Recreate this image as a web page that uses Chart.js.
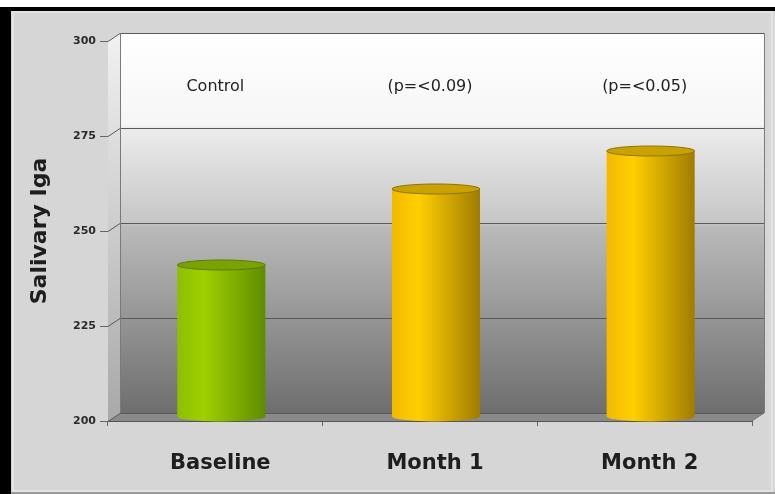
<!DOCTYPE html>
<html>
<head>
<meta charset="utf-8">
<script src="https://cdn.jsdelivr.net/npm/chart.js@4"></script>
<style>
  html, body { margin: 0; padding: 0; background: #d6d6d6; }
  #wrap { width: 775px; height: 494px; }
</style>
</head>
<body>
<div id="wrap"><canvas id="chart" width="775" height="494"></canvas></div>
<script>
const categories = ['Baseline', 'Month 1', 'Month 2'];
const igaValues = [240, 260, 270];
const pLabels = ['Control', '(p=<0.09)', '(p=<0.05)'];
const yTicks = [200, 225, 250, 275, 300];
const pLabelLevel = 288;   // value where the p-labels sit

const DX = 12, DY = -8;    // depth of the 3D box
const barColors = [
  { dark: '#5f8c00', mid: '#9fd000', light: '#8cc000', cap: '#7aa300', rim: '#5a7d00' },
  { dark: '#a07c00', mid: '#ffcf00', light: '#f2b900', cap: '#c9a200', rim: '#8f7000' },
  { dark: '#a07c00', mid: '#ffcf00', light: '#f2b900', cap: '#c9a200', rim: '#8f7000' }
];

const box3d = {
  id: 'box3d',
  beforeDraw(chart) {
    const ctx = chart.ctx;
    ctx.save();
    ctx.fillStyle = '#d6d6d6';
    ctx.fillRect(0, 0, chart.width, chart.height);
    ctx.strokeStyle = '#e4e4e4';
    ctx.lineWidth = 2;
    ctx.strokeRect(13, 12, chart.width - 16, chart.height - 15);
    ctx.fillStyle = '#ffffff';
    ctx.fillRect(0, 0, chart.width, 7);
    ctx.fillStyle = '#000000';
    ctx.fillRect(0, 7, chart.width, 4);
    ctx.fillRect(0, 7, 11, chart.height - 7);
    ctx.fillStyle = '#9a9a9a';
    ctx.fillRect(11, chart.height - 2, chart.width, 2);
    ctx.restore();
  },
  beforeDatasetsDraw(chart) {
    const { ctx, chartArea: a } = chart;
    const ys = chart.scales.y;
    ctx.save();
    // back wall
    const g = ctx.createLinearGradient(0, a.top + DY, 0, a.bottom + DY);
    g.addColorStop(0, '#ffffff');
    g.addColorStop(0.24, '#f6f6f6');
    g.addColorStop(0.25, '#ececec');
    g.addColorStop(0.5, '#c6c6c6');
    g.addColorStop(0.51, '#bababa');
    g.addColorStop(0.75, '#959595');
    g.addColorStop(1, '#6e6e6e');
    ctx.fillStyle = g;
    ctx.fillRect(a.left + DX, a.top + DY, a.right - a.left, a.bottom - a.top);
    // left wall
    const gl = ctx.createLinearGradient(0, a.top, 0, a.bottom);
    gl.addColorStop(0, '#f0f0f0');
    gl.addColorStop(1, '#a8a8a8');
    ctx.fillStyle = gl;
    ctx.beginPath();
    ctx.moveTo(a.left, a.top);
    ctx.lineTo(a.left + DX, a.top + DY);
    ctx.lineTo(a.left + DX, a.bottom + DY);
    ctx.lineTo(a.left, a.bottom);
    ctx.closePath();
    ctx.fill();
    // floor
    ctx.fillStyle = '#8a8a8a';
    ctx.beginPath();
    ctx.moveTo(a.left, a.bottom);
    ctx.lineTo(a.right, a.bottom);
    ctx.lineTo(a.right + DX, a.bottom + DY);
    ctx.lineTo(a.left + DX, a.bottom + DY);
    ctx.closePath();
    ctx.fill();
    // grid lines
    ctx.strokeStyle = '#5a5a5a';
    ctx.lineWidth = 1;
    ys.ticks.forEach(t => {
      const y = Math.round(ys.getPixelForValue(t.value)) + 0.5;
      ctx.beginPath();
      ctx.moveTo(a.left, y);
      ctx.lineTo(a.left + DX, y + DY);
      ctx.lineTo(a.right + DX, y + DY);
      ctx.stroke();
    });
    ctx.strokeStyle = '#7a7a7a';
    ctx.beginPath();
    ctx.moveTo(a.left + DX + 0.5, a.top + DY);
    ctx.lineTo(a.left + DX + 0.5, a.bottom + DY);
    ctx.moveTo(a.right + DX + 0.5, a.top + DY);
    ctx.lineTo(a.right + DX + 0.5, a.bottom + DY);
    ctx.moveTo(a.right, a.bottom);
    ctx.lineTo(a.right + DX, a.bottom + DY);
    ctx.stroke();
    // p-value labels
    ctx.fillStyle = '#222222';
    ctx.font = '16px "DejaVu Sans"';
    ctx.textAlign = 'center';
    ctx.textBaseline = 'middle';
    const xs = chart.scales.x;
    pLabels.forEach((txt, i) => {
      ctx.fillText(txt, xs.getPixelForValue(i), ys.getPixelForValue(pLabelLevel));
    });
    ctx.restore();
  },
  afterDatasetsDraw(chart) {
    const ctx = chart.ctx;
    const meta = chart.getDatasetMeta(0);
    ctx.save();
    meta.data.forEach((bar, i) => {
      const c = barColors[i];
      const x = bar.x + DX / 2;
      const top = bar.y + DY / 2;
      const base = bar.base + DY / 2;
      const rx = bar.width / 2, ry = 5;
      const g = ctx.createLinearGradient(x - rx, 0, x + rx, 0);
      g.addColorStop(0, c.light);
      g.addColorStop(0.3, c.mid);
      g.addColorStop(1, c.dark);
      ctx.fillStyle = g;
      ctx.beginPath();
      ctx.moveTo(x - rx, top);
      ctx.lineTo(x - rx, base);
      ctx.ellipse(x, base, rx, ry, 0, Math.PI, 0, true);
      ctx.lineTo(x + rx, top);
      ctx.ellipse(x, top, rx, ry, 0, 0, Math.PI, false);
      ctx.closePath();
      ctx.fill();
      ctx.fillStyle = c.cap;
      ctx.strokeStyle = c.rim;
      ctx.lineWidth = 1;
      ctx.beginPath();
      ctx.ellipse(x, top, rx, ry, 0, 0, Math.PI * 2);
      ctx.fill();
      ctx.stroke();
    });
    ctx.restore();
  }
};

new Chart(document.getElementById('chart'), {
  type: 'bar',
  data: {
    labels: categories,
    datasets: [{
      label: 'Salivary Iga',
      data: igaValues,
      base: yTicks[0],
      backgroundColor: 'rgba(0,0,0,0)',
      borderWidth: 0,
      categoryPercentage: 1,
      barPercentage: 0.41
    }]
  },
  options: {
    responsive: false,
    animation: false,
    layout: { padding: { top: 41, right: 23, left: 0, bottom: 0 } },
    plugins: { legend: { display: false }, tooltip: { enabled: false } },
    scales: {
      x: {
        grid: { display: true, drawOnChartArea: false, drawTicks: true, tickLength: 5, color: '#666666' },
        border: { display: true, color: '#555555' },
        ticks: {
          color: '#1e1e1e',
          font: { family: 'DejaVu Sans', size: 21, weight: 'bold' },
          padding: 25,
          labelOffset: 5
        },
        afterFit(scale) { scale.height = 73; }
      },
      y: {
        min: 200,
        max: 300,
        afterBuildTicks(scale) { scale.ticks = yTicks.map(v => ({ value: v })); },
        grid: { drawOnChartArea: false, tickLength: 8, color: '#666666' },
        border: { display: true, color: '#777777' },
        ticks: {
          color: '#2a2a2a',
          font: { family: 'DejaVu Sans', size: 11, weight: 'bold' },
          padding: 4
        },
        title: {
          display: true,
          text: 'Salivary Iga',
          color: '#1e1e1e',
          font: { family: 'DejaVu Sans', size: 22, weight: 'bold' },
          padding: { top: 27, bottom: 0 }
        },
        afterFit(scale) { scale.width = 108; }
      }
    }
  },
  plugins: [box3d]
});
</script>
</body>
</html>
